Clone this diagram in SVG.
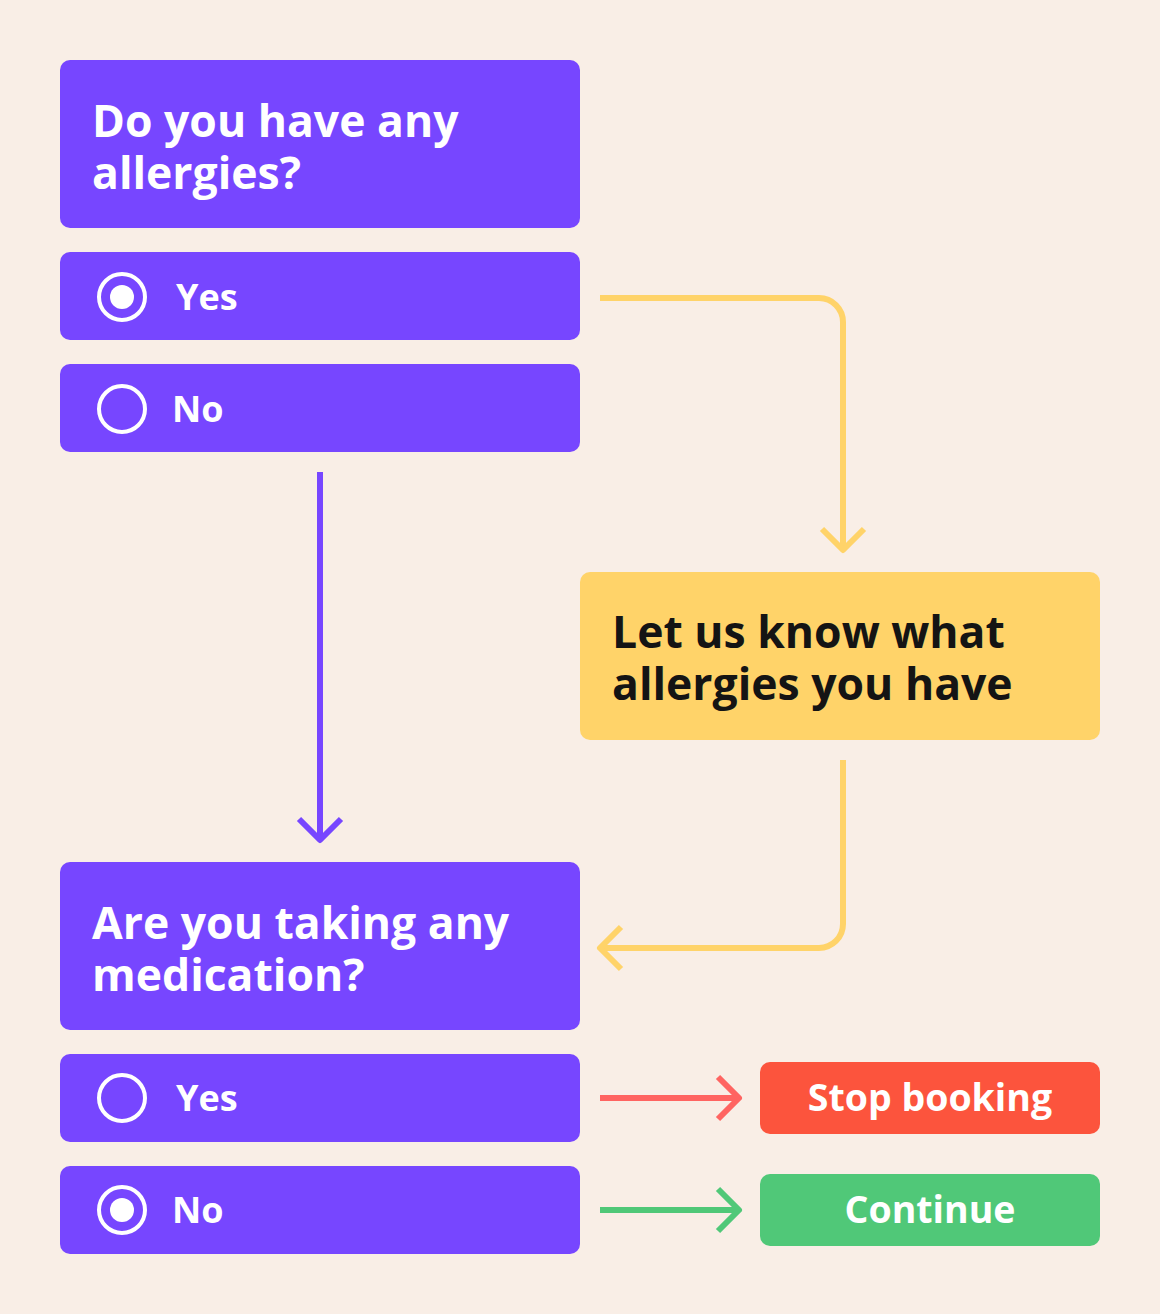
<svg xmlns="http://www.w3.org/2000/svg" width="1160" height="1314" viewBox="0 0 1160 1314">
<style>
.q{fill:#7746FF}
.t{font-family:"Open Sans","Liberation Sans",sans-serif;font-weight:700}
.w{fill:#FFFFFF}
.big{font-size:44.5px}
.opt{font-size:36px}
.ring{fill:none;stroke:#FFFFFF;stroke-width:4}
.dot{fill:#FFFFFF}
.c{fill:none;stroke-width:6;stroke-linecap:butt;stroke-linejoin:round}
</style>
<rect x="0" y="0" width="1160" height="1314" fill="#F9EEE6"/>
<g id="q1">
<rect class="q" x="60" y="60" width="520" height="168" rx="10"/>
<text class="t w big" x="92" y="137">Do you have any</text>
<text class="t w big" x="92" y="189">allergies?</text>
</g>
<g id="q1-yes">
<rect class="q" x="60" y="252" width="520" height="88" rx="10"/>
<circle class="ring" cx="122" cy="297" r="23"/>
<circle class="dot" cx="122" cy="297" r="12"/>
<text class="t w opt" x="176" y="310">Yes</text>
</g>
<g id="q1-no">
<rect class="q" x="60" y="364" width="520" height="88" rx="10"/>
<circle class="ring" cx="122" cy="409" r="23"/>
<text class="t w opt" x="172" y="422">No</text>
</g>
<g id="allergies">
<rect x="580" y="572" width="520" height="168" rx="10" fill="#FFD369"/>
<text class="t big" fill="#141414" x="612" y="648">Let us know what</text>
<text class="t big" fill="#141414" x="612" y="700">allergies you have</text>
</g>
<g id="q2">
<rect class="q" x="60" y="862" width="520" height="168" rx="10"/>
<text class="t w big" x="92" y="939">Are you taking any</text>
<text class="t w big" x="92" y="991">medication?</text>
</g>
<g id="q2-yes">
<rect class="q" x="60" y="1054" width="520" height="88" rx="10"/>
<circle class="ring" cx="122" cy="1098" r="23"/>
<text class="t w opt" x="176" y="1111">Yes</text>
</g>
<g id="q2-no">
<rect class="q" x="60" y="1166" width="520" height="88" rx="10"/>
<circle class="ring" cx="122" cy="1210" r="23"/>
<circle class="dot" cx="122" cy="1210" r="12"/>
<text class="t w opt" x="172" y="1223">No</text>
</g>
<g id="stop">
<rect x="760" y="1062" width="340" height="72" rx="10" fill="#FC543D"/>
<text class="t w" font-size="37.5" x="930" y="1111" text-anchor="middle">Stop booking</text>
</g>
<g id="continue">
<rect x="760" y="1174" width="340" height="72" rx="10" fill="#50C878"/>
<text class="t w" font-size="37.5" x="930" y="1223" text-anchor="middle">Continue</text>
</g>
<g id="connectors">
<path class="c" stroke="#FFD369" d="M600 298 H819 A24 24 0 0 1 843 322 V549"/>
<path class="c" stroke="#FFD369" d="M822 529 L843 550 L864 529"/>
<path class="c" stroke="#FFD369" d="M843 760 V924 A24 24 0 0 1 819 948 H601"/>
<path class="c" stroke="#FFD369" d="M621 927 L600 948 L621 969"/>
<path class="c" stroke="#7746FF" d="M320 472 V839"/>
<path class="c" stroke="#7746FF" d="M299 819 L320 840 L341 819"/>
<path class="c" stroke="#FF6461" d="M600 1098 H737"/>
<path class="c" stroke="#FF6461" d="M718 1077 L739 1098 L718 1119"/>
<path class="c" stroke="#50C878" d="M600 1210 H737"/>
<path class="c" stroke="#50C878" d="M718 1189 L739 1210 L718 1231"/>
</g>
</svg>
